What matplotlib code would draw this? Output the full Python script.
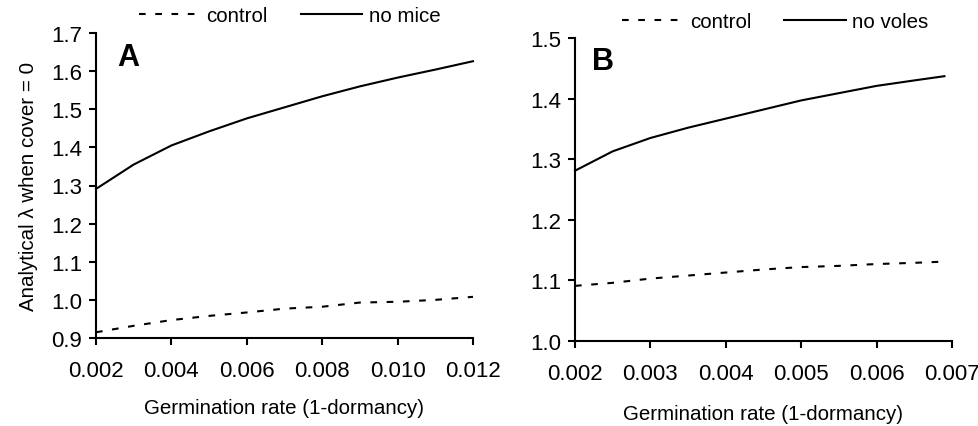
import matplotlib
matplotlib.use("Agg")
import matplotlib.pyplot as plt
from matplotlib.ticker import FormatStrFormatter

plt.rcParams['font.family'] = ['Liberation Sans', 'DejaVu Sans']

# Panel A data
xA = [0.002, 0.003, 0.004, 0.005, 0.006, 0.007, 0.008, 0.009, 0.010, 0.011, 0.012]
nomice = [1.291, 1.355, 1.405, 1.442, 1.476, 1.505, 1.534, 1.560, 1.583, 1.604, 1.626]
controlA = [0.915, 0.932, 0.947, 0.958, 0.967, 0.977, 0.982, 0.993, 0.995, 1.000, 1.008]
xticksA = [0.002, 0.004, 0.006, 0.008, 0.010, 0.012]
yticksA = [0.9, 1.0, 1.1, 1.2, 1.3, 1.4, 1.5, 1.6, 1.7]

# Panel B data
xB = [0.002, 0.0025, 0.003, 0.0035, 0.004, 0.0045, 0.005, 0.0055, 0.006, 0.0065, 0.0069]
novoles = [1.281, 1.313, 1.335, 1.352, 1.367, 1.382, 1.397, 1.409, 1.421, 1.430, 1.437]
controlB = [1.091, 1.096, 1.103, 1.108, 1.113, 1.118, 1.122, 1.124, 1.127, 1.129, 1.131]
xticksB = [0.002, 0.003, 0.004, 0.005, 0.006, 0.007]
yticksB = [1.0, 1.1, 1.2, 1.3, 1.4, 1.5]

TFS = 16
FS = 14.8
LW = 1.5
DASH = (3.2, 4.6)

fig = plt.figure(figsize=(9.79, 4.27), dpi=100)
axA = fig.add_axes([96/979, 1-339/427, (473-96)/979, (339-34)/427])
axB = fig.add_axes([575/979, 1-342/427, (952-575)/979, (342-39)/427])

def style(ax, xt, yt):
    for s in ['top', 'right']:
        ax.spines[s].set_visible(False)
    for s in ['left', 'bottom']:
        ax.spines[s].set_linewidth(LW)
        ax.spines[s].set_color('black')
    ax.set_xticks(xt)
    ax.set_yticks(yt)
    ax.set_xlim(xt[0], xt[-1])
    ax.set_ylim(yt[0], yt[-1])
    ax.tick_params(direction='out', length=5, width=LW, labelsize=TFS, colors='black')
    ax.tick_params(axis='x', pad=11)
    ax.tick_params(axis='y', pad=5)
    ax.xaxis.set_major_formatter(FormatStrFormatter('%.3f'))
    ax.yaxis.set_major_formatter(FormatStrFormatter('%.1f'))
    for sp in ax.spines.values():
        sp.set_clip_on(False)

l1, = axA.plot(xA, controlA, color='black', lw=LW, dashes=DASH, label='control', clip_on=False)
l2, = axA.plot(xA, nomice, color='black', lw=LW, label='no mice', clip_on=False)
style(axA, xticksA, yticksA)
axA.set_xlabel('Germination rate (1-dormancy)', fontsize=FS, labelpad=12)
axA.set_ylabel('Analytical \u03bb when cover = 0', fontsize=FS, labelpad=9)
axA.text(117/979, 1-43/427, 'A', transform=fig.transFigure, fontsize=22,
         fontweight='bold', ha='left', va='top')

m1, = axB.plot(xB, controlB, color='black', lw=LW, dashes=DASH, label='control', clip_on=False)
m2, = axB.plot(xB, novoles, color='black', lw=LW, label='no voles', clip_on=False)
style(axB, xticksB, yticksB)
axB.set_xlabel('Germination rate (1-dormancy)', fontsize=FS, labelpad=14)
axB.text(592/979, 1-47/427, 'B', transform=fig.transFigure, fontsize=22,
         fontweight='bold', ha='left', va='top')

legkw = dict(ncol=2, frameon=False, fontsize=FS, handlelength=3.0,
             handletextpad=0.3, columnspacing=1.6, loc='center', borderpad=0)
fig.legend(handles=[l1, l2], bbox_to_anchor=(289.5/979, 1-17/427), **legkw)
fig.legend(handles=[m1, m2], bbox_to_anchor=(775/979, 1-23/427), **legkw)

fig.savefig('out.png', dpi=100)
